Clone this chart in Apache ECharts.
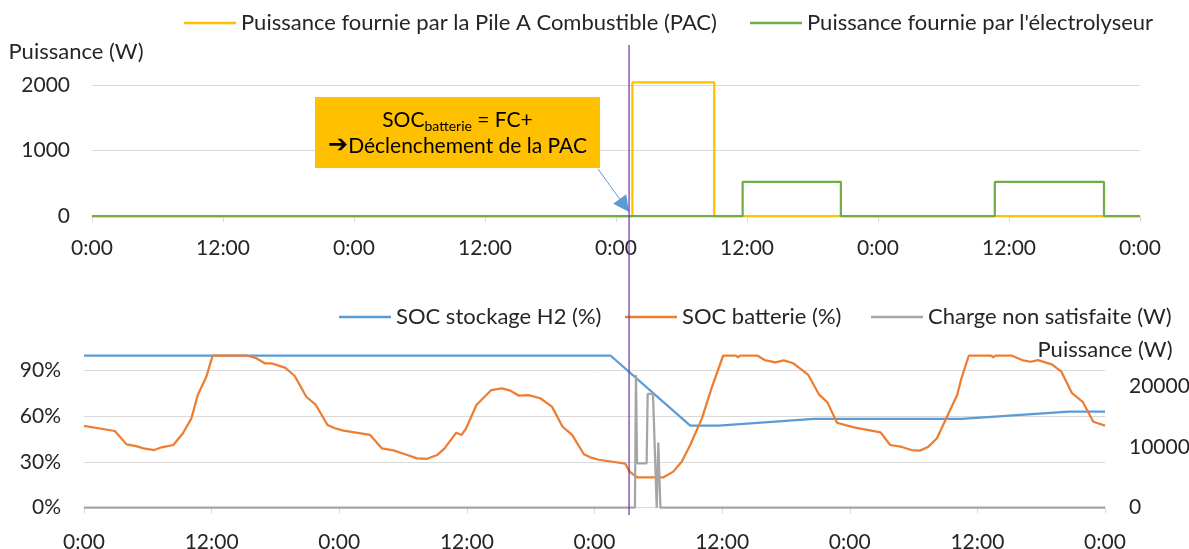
<!DOCTYPE html>
<html>
<head>
<meta charset="utf-8">
<script src="https://cdn.jsdelivr.net/npm/echarts@6/dist/echarts.min.js"></script>
<style>
  html, body { margin: 0; padding: 0; background: #ffffff; }
  #chart { width: 1189px; height: 549px; }
</style>
</head>
<body>
<div id="chart"></div>
<script>
// ---- Series data (time in hours since the first midnight, 4 days) ----
const pacName = 'Puissance fournie par la Pile A Combustible (PAC)';
const elecName = "Puissance fournie par l'électrolyseur";
const h2Name = 'SOC stockage H2 (%)';
const batName = 'SOC batterie (%)';
const unmetName = 'Charge non satisfaite (W)';

// Fuel cell output (W)
const pacHours = [0, 49.5, 49.5, 57.0, 57.0, 96];
const pacPower = [0, 0, 2040, 2040, 0, 0];

// Electrolyser power (W)
const elecHours = [0, 59.6, 59.6, 68.6, 68.6, 82.7, 82.7, 92.7, 92.7, 96];
const elecPower = [0, 0, 520, 520, 0, 0, 520, 520, 0, 0];

// Hydrogen storage state of charge (%)
const h2Hours = [0, 49.5, 57.0, 59.7, 68.6, 82.5, 92.6, 96];
const h2Soc = [100, 100, 53.9, 53.9, 58.3, 58.3, 63.1, 63.1];

// Battery state of charge (%)
const batHours = [
  0, 2.9, 4.0, 4.9, 5.6, 6.6, 7.3, 8.4, 9.3, 10.1, 10.7, 11.5, 12.1, 15.3, 16.2, 17.0, 17.6, 18.9, 19.8, 20.9, 21.8, 22.9, 23.6,
  24.4, 26.9, 28.0, 29.1, 30.2, 31.3, 32.2, 33.2, 33.9, 35.0, 35.5, 35.9, 36.9, 38.3, 39.3, 40.1, 40.9, 41.8, 42.9, 44.0, 45.0, 45.9, 47.0, 47.6,
  48.4, 50.9, 51.3, 52.0, 54.5, 55.4, 56.2, 57.0, 58.1, 59.0, 60.1, 61.3, 61.5, 61.7, 63.3, 64.0, 65.0, 65.8, 66.7, 68.1, 69.1, 69.9, 70.8, 71.6,
  72.5, 74.9, 75.8, 76.9, 77.8, 78.6, 79.4, 80.2, 81.0, 82.1, 82.5, 83.2, 85.3, 85.5, 85.7, 87.2, 88.2, 89.0, 89.7, 91.0, 91.9, 92.9, 93.9, 94.9, 96
];
const batSoc = [
  53.7, 50.4, 41.6, 40.5, 39.0, 37.9, 39.7, 41.2, 48.9, 58.7, 74.0, 86.0, 100, 100, 98.2, 94.9, 94.9, 92.0, 86.7, 72.9, 67.5, 54.3, 52.2,
  50.6, 47.8, 39.0, 37.7, 35.1, 32.4, 32.0, 34.6, 39.0, 49.3, 47.8, 51.7, 67.5, 77.3, 78.4, 76.9, 73.6, 74.0, 71.9, 66.4, 53.2, 47.8, 35.1, 33.1,
  31.5, 28.9, 23.7, 20.0, 20.0, 23.7, 30.2, 41.2, 58.7, 78.4, 100, 100, 98.8, 100, 100, 97.0, 95.5, 96.8, 94.9, 87.2, 74.5, 69.2, 55.8, 54.3,
  52.6, 49.5, 41.2, 39.9, 37.9, 37.5, 40.1, 45.6, 57.6, 74.0, 85.0, 100, 100, 98.8, 100, 100, 97.0, 95.9, 97.0, 94.2, 89.4, 75.2, 69.6, 56.5, 53.9
];

// Unmet load (W)
const unmetHours = [0, 51.8, 51.9, 52.0, 52.9, 53.0, 53.5, 53.85, 54.0, 54.2, 96];
const unmetPower = [0, 0, 21800, 7300, 7300, 18700, 18700, 0, 10700, 0, 0];

// Axis tick labels and the fuel-cell trigger instant
const timeTickLabels = ['0:00', '12:00'];
const triggerHour = 51.25;

const pairs = (xs, ys) => xs.map((x, i) => [x, ys[i]]);

const FONT = 'Lato, "DejaVu Sans", sans-serif';
const TEXT = '#262626';
const GRID_LINE = '#D9D9D9';
const FS = 22;      // legend and axis names
const FS_TICK = 21; // tick labels

const timeAxis = (gridIndex, labelMargin) => ({
  type: 'value', gridIndex, min: 0, max: 96, interval: 12,
  axisLine: { show: true, lineStyle: { color: GRID_LINE, width: 1 } },
  axisTick: { show: true, length: 6, lineStyle: { color: GRID_LINE } },
  splitLine: { show: false },
  axisLabel: {
    margin: labelMargin, fontSize: FS_TICK, color: TEXT, fontFamily: FONT,
    formatter: v => timeTickLabels[(v % 24 === 0) ? 0 : 1]
  }
});

const legendCommon = {
  icon: 'rect', itemWidth: 52, itemHeight: 2.5, padding: 0,
  textStyle: { fontSize: FS, color: TEXT, fontFamily: FONT, lineHeight: 26 }
};

const chart = echarts.init(document.getElementById('chart'), null, { renderer: 'canvas' });

const option = {
  animation: false,
  backgroundColor: '#ffffff',
  textStyle: { fontFamily: FONT },
  grid: [
    { left: 92, width: 1048, top: 85, height: 131, outerBoundsMode: 'none', containLabel: false },
    { left: 84, width: 1021, top: 355.5, height: 152.2, outerBoundsMode: 'none', containLabel: false }
  ],
  legend: [
    Object.assign({ data: [pacName], left: 184, top: 10 }, legendCommon),
    Object.assign({ data: [elecName], left: 750, top: 10 }, legendCommon),
    Object.assign({ data: [h2Name], left: 339, top: 304 }, legendCommon),
    Object.assign({ data: [batName], left: 625, top: 304 }, legendCommon),
    Object.assign({ data: [unmetName], left: 871, top: 304 }, legendCommon)
  ],
  xAxis: [timeAxis(0, 22), timeAxis(1, 24)],
  yAxis: [
    {
      type: 'value', gridIndex: 0, min: 0, max: 2000, interval: 1000,
      name: 'Puissance (W)', nameLocation: 'end', nameGap: 33,
      nameTextStyle: { fontSize: FS, color: TEXT, fontFamily: FONT, align: 'center', verticalAlign: 'middle', padding: [0, 32, 0, 0] },
      axisLine: { show: false }, axisTick: { show: false },
      splitLine: { show: true, lineStyle: { color: GRID_LINE, width: 1 } },
      axisLabel: { margin: 22, fontSize: FS_TICK, color: TEXT, fontFamily: FONT, formatter: v => String(v) }
    },
    {
      type: 'value', gridIndex: 1, min: 0, max: 100, interval: 30,
      axisLine: { show: false }, axisTick: { show: false },
      splitLine: { show: true, showMaxLine: false, lineStyle: { color: GRID_LINE, width: 1 } },
      axisLabel: { margin: 23, fontSize: FS_TICK, color: TEXT, fontFamily: FONT, showMaxLabel: false,
        formatter: v => (v === 100 ? '' : v + '%') }
    },
    {
      type: 'value', gridIndex: 1, position: 'right', min: 0, max: 25000, interval: 10000,
      name: 'Puissance (W)', nameLocation: 'end', nameGap: 5.5,
      nameTextStyle: { fontSize: FS, color: TEXT, fontFamily: FONT, align: 'center', verticalAlign: 'middle' },
      axisLine: { show: false }, axisTick: { show: false },
      splitLine: { show: false },
      axisLabel: { margin: 24, fontSize: FS_TICK, color: TEXT, fontFamily: FONT, showMaxLabel: false,
        formatter: v => (v === 25000 ? '' : String(v)) }
    }
  ],
  series: [
    {
      name: pacName, type: 'line', xAxisIndex: 0, yAxisIndex: 0,
      data: pairs(pacHours, pacPower), symbol: 'none', clip: false,
      lineStyle: { color: '#FFC000', width: 2.25 }, itemStyle: { color: '#FFC000' }
    },
    {
      name: elecName, type: 'line', xAxisIndex: 0, yAxisIndex: 0,
      data: pairs(elecHours, elecPower), symbol: 'none', clip: false,
      lineStyle: { color: '#70AD47', width: 2.25 }, itemStyle: { color: '#70AD47' }
    },
    {
      name: h2Name, type: 'line', xAxisIndex: 1, yAxisIndex: 1,
      data: pairs(h2Hours, h2Soc), symbol: 'none', clip: false,
      lineStyle: { color: '#5B9BD5', width: 2.25 }, itemStyle: { color: '#5B9BD5' }
    },
    {
      name: batName, type: 'line', xAxisIndex: 1, yAxisIndex: 1,
      data: pairs(batHours, batSoc), symbol: 'none', clip: false,
      lineStyle: { color: '#ED7D31', width: 2.25 }, itemStyle: { color: '#ED7D31' }
    },
    {
      name: unmetName, type: 'line', xAxisIndex: 1, yAxisIndex: 2,
      data: pairs(unmetHours, unmetPower), symbol: 'none', clip: false,
      lineStyle: { color: '#A5A5A5', width: 2.25 }, itemStyle: { color: '#A5A5A5' }
    }
  ]
};

chart.setOption(option);

// Trigger marker: a vertical line through both panels and a callout pointing at it
const triggerX = chart.convertToPixel({ xAxisIndex: 1 }, triggerHour);
const tip = [triggerX, 212];
const tail = [598, 169];
const dx = tip[0] - tail[0], dy = tip[1] - tail[1];
const len = Math.sqrt(dx * dx + dy * dy);
const ux = dx / len, uy = dy / len;
const headLen = 16, headHalf = 8;
const base = [tip[0] - ux * headLen, tip[1] - uy * headLen];

chart.setOption({
  graphic: [
    {
      type: 'line', z: 100,
      shape: { x1: triggerX, y1: 45, x2: triggerX, y2: 515 },
      style: { stroke: '#7030A0', lineWidth: 1.2 }
    },
    {
      type: 'rect', z: 90,
      shape: { x: 315, y: 97, width: 285, height: 71 },
      style: { fill: '#FFC000' }
    },
    {
      type: 'text', z: 91,
      style: {
        x: 457.5, y: 133, align: 'center', verticalAlign: 'middle',
        text: '{m|SOC}{s|batterie}{m| = FC+}\n{a|➔}{m|Déclenchement de la PAC}',
        rich: {
          m: { fontSize: 21, fontFamily: FONT, fill: '#000000', lineHeight: 26 },
          a: { fontSize: 24, fontFamily: '"DejaVu Sans", sans-serif', fontWeight: 'bold', fill: '#000000', lineHeight: 26 },
          s: { fontSize: 14, fontFamily: FONT, fill: '#000000', lineHeight: 14, padding: [12, 0, 0, 0] }
        }
      }
    },
    {
      type: 'line', z: 95,
      shape: { x1: tail[0], y1: tail[1], x2: base[0], y2: base[1] },
      style: { stroke: '#5B9BD5', lineWidth: 1 }
    },
    {
      type: 'polygon', z: 95,
      shape: { points: [tip,
        [base[0] - uy * headHalf, base[1] + ux * headHalf],
        [base[0] + uy * headHalf, base[1] - ux * headHalf]] },
      style: { fill: '#5B9BD5' }
    }
  ]
});
</script>
</body>
</html>
